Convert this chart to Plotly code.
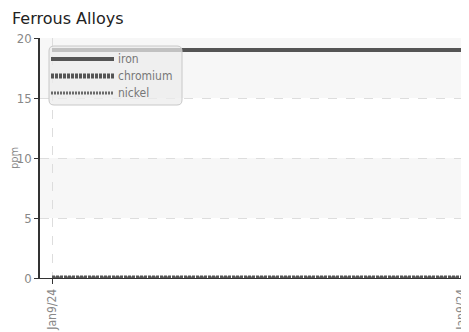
import plotly.graph_objects as go

# ---- data ----
x_pos = [0, 1]
x_labels = ["Jan9/24", "Jan9/24"]
iron = [19, 19]
chromium = [0, 0]
nickel = [0, 0]
series_names = ["iron", "chromium", "nickel"]
y_ticks = [0, 5, 10, 15, 20]

OFF = 8  # page body margin
W, H = 469 - OFF, 332 - OFF
L, R, T, B = 40 - OFF, 1, 38 - OFF, 54
pw, ph = W - L - R, H - T - B
NARROW = "DejaVu Sans Condensed, Liberation Sans Narrow, Roboto Condensed, Roboto"

def px(xp):
    return (xp - OFF - L) / pw

def py(yp):
    return (H - B - (yp - OFF)) / ph

fig = go.Figure()
styles = [
    dict(color="#555555", width=4, dash="solid"),
    dict(color="#555555", width=5, dash="3px,1px"),
    dict(color="#6a6a6a", width=3, dash="2px,1px"),
]
for name, ys, st in [("nickel", nickel, styles[2]), ("chromium", chromium, styles[1]), ("iron", iron, styles[0])]:
    fig.add_trace(go.Scatter(x=x_pos, y=ys, mode="lines", name=name, line=st,
                             cliponaxis=False, showlegend=False, hoverinfo="skip"))

shapes = []
for y0, y1 in [(15, 20), (5, 10)]:
    shapes.append(dict(type="rect", xref="paper", yref="y", x0=0, x1=1, y0=y0, y1=y1,
                       fillcolor="#f7f7f7", line=dict(width=0), layer="below"))

# custom legend box
lx0, lx1, ly0, ly1 = px(49), px(182), py(46), py(105)
rx, ry = 5 / pw, 5 / ph
path = (f"M {lx0+rx},{ly0} L {lx1-rx},{ly0} Q {lx1},{ly0} {lx1},{ly0-ry} "
        f"L {lx1},{ly1+ry} Q {lx1},{ly1} {lx1-rx},{ly1} L {lx0+rx},{ly1} "
        f"Q {lx0},{ly1} {lx0},{ly1+ry} L {lx0},{ly0-ry} Q {lx0},{ly0} {lx0+rx},{ly0} Z")
shapes.append(dict(type="path", xref="paper", yref="paper", path=path,
                   fillcolor="rgba(236,236,236,0.72)", line=dict(color="#c8c8c8", width=1), layer="above"))
annotations = []
for i, (name, st) in enumerate(zip(series_names, styles)):
    yy = py(59 + 17 * i)
    shapes.append(dict(type="line", xref="paper", yref="paper", x0=px(51), x1=px(114), y0=yy, y1=yy,
                       line=st, layer="above"))
    annotations.append(dict(xref="paper", yref="paper", x=px(116), y=yy, text=name, showarrow=False,
                            xanchor="left", yanchor="middle",
                            font=dict(family=NARROW, size=12, color="#777777")))

fig.update_layout(
    width=W, height=H,
    margin=dict(l=L, r=R, t=T, b=B, autoexpand=False),
    paper_bgcolor="white", plot_bgcolor="white",
    title=dict(text="Ferrous Alloys", x=(12 - OFF) / W, xref="container", xanchor="left",
               y=1 - (18 - OFF) / H, yref="container", yanchor="middle",
               font=dict(family="DejaVu Sans", size=16, color="#222222")),
    shapes=shapes, annotations=annotations,
    xaxis=dict(range=[-12 / 409, 1 + 7 / 409], tickvals=x_pos, ticktext=x_labels, tickangle=-90,
               automargin=False,
               showgrid=True, gridcolor="#dddddd", griddash="dash", gridwidth=1,
               showline=True, linecolor="#333333", linewidth=1, ticks="outside", ticklen=5,
               tickcolor="#333333", zeroline=False,
               tickfont=dict(family=NARROW, size=12, color="#888888")),
    yaxis=dict(range=[0, 20], tickvals=y_ticks, showgrid=True, gridcolor="#dddddd", griddash="dash",
               automargin=False,
               showline=True, linecolor="#333333", linewidth=1.5, ticks="outside", ticklen=4,
               tickcolor="#333333", zeroline=False,
               title=dict(text="ppm", standoff=8,
                          font=dict(family=NARROW, size=11, color="#888888")),
               tickfont=dict(family=NARROW, size=13, color="#888888")),
)

fig.write_html("out.html")
